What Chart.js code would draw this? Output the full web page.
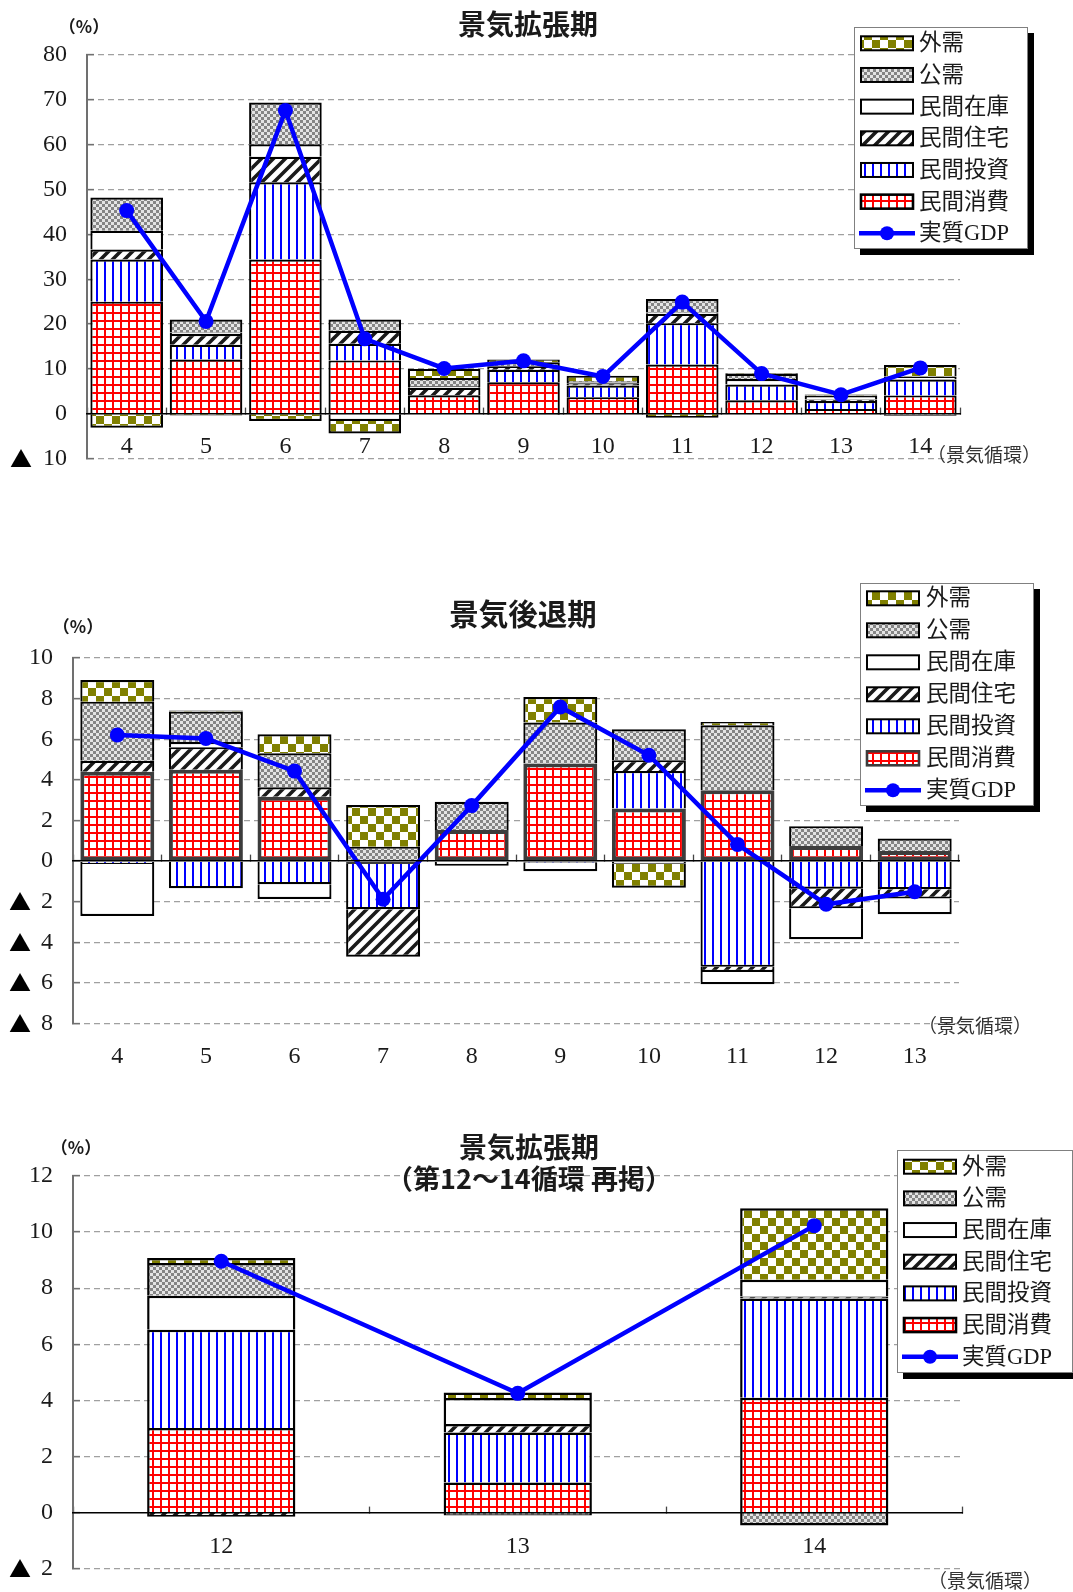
<!DOCTYPE html>
<html lang="ja">
<head>
<meta charset="utf-8">
<title>景気拡張期・後退期の需要項目別寄与</title>
<script src="https://cdn.jsdelivr.net/npm/chart.js@4.4.1/dist/chart.umd.min.js"></script>
<style>
  html, body { margin: 0; padding: 0; background: #fff; }
  body { width: 1073px; height: 1592px; position: relative; overflow: hidden; }
  canvas { position: absolute; left: 0; }
  .lbl { position: absolute; transform: translate(-50%, -50%); white-space: nowrap; color: #1a1a1a; line-height: 1; }
  .title { font-family: 'Noto Sans CJK JP', sans-serif; font-weight: 700; }
  .unit { font-family: 'Noto Sans CJK JP', sans-serif; font-weight: 700; font-size: 17px; }
  .axisname { font-family: 'Liberation Serif', 'Noto Sans CJK JP', serif; font-size: 19px; color: #333; }
</style>
</head>
<body>
<canvas id="c1" width="1073" height="500" style="top:0"></canvas>
<canvas id="c2" width="1073" height="570" style="top:520px"></canvas>
<canvas id="c3" width="1073" height="520" style="top:1090px"></canvas>

<div class="lbl title" style="left:528px;top:23px;font-size:28px">景気拡張期</div>
<div class="lbl unit" style="left:84px;top:25px">（%）</div>
<div class="lbl axisname" style="left:984px;top:455px">（景気循環）</div>

<div class="lbl title" style="left:523px;top:613px;font-size:29.5px">景気後退期</div>
<div class="lbl unit" style="left:78px;top:625px">（%）</div>
<div class="lbl axisname" style="left:975px;top:1026px">（景気循環）</div>

<div class="lbl title" style="left:529px;top:1146px;font-size:28px">景気拡張期</div>
<div class="lbl title" style="left:529px;top:1177px;font-size:27px">（第12～14循環 再掲）</div>
<div class="lbl unit" style="left:76px;top:1146px">（%）</div>
<div class="lbl axisname" style="left:985px;top:1581px">（景気循環）</div>

<script>
// 景気拡張期（第4～14循環）の寄与度（%）
const expansionCycles = ['4', '5', '6', '7', '8', '9', '10', '11', '12', '13', '14'];
const expConsumption  = [25.0, 12.1, 34.4, 11.9, 4.1, 7.0, 3.7, 11.0, 3.01, 1.07, 4.09];
const expInvestment   = [9.4, 3.3, 17.2, 3.7, 0.0, 2.8, 2.6, 9.2, 3.51, 1.78, 3.54];
const expHousing      = [2.2, 2.4, 5.7, 2.9, 1.7, 0.8, 0.5, 2.1, -0.15, 0.31, 0.07];
const expInventory    = [4.2, 0.3, 2.8, -1.6, 0.4, -0.3, 0.3, 0.3, 1.21, 0.92, 0.60];
const expPublic       = [7.4, 2.9, 9.3, 2.5, 1.8, 0.9, 0.2, 3.0, 1.17, -0.11, -0.46];
const expExternal     = [-3.1, -0.4, -1.6, -2.8, 2.0, 0.6, 1.2, -0.9, 0.18, 0.20, 2.55];
const expGDP          = [45.3, 20.6, 67.6, 16.7, 10.1, 11.8, 8.3, 24.9, 8.96, 4.25, 10.23];

// 景気後退期（第4～13循環）の寄与度（%）
const recessionCycles = ['4', '5', '6', '7', '8', '9', '10', '11', '12', '13'];
const recConsumption  = [4.40, 4.50, 3.17, -0.15, 1.53, 4.80, 2.59, 3.49, 0.74, 0.49];
const recInvestment   = [-0.14, -1.34, -1.14, -2.22, 0, -0.08, 1.84, -5.21, -1.36, -1.39];
const recHousing      = [0.54, 1.11, 0.46, -2.34, 0, 0, 0.54, -0.25, -0.97, -0.46];
const recInventory    = [-2.56, 0.25, -0.73, 0, -0.23, -0.42, -0.13, -0.61, -1.52, -0.77];
const recPublic       = [2.91, 1.50, 1.68, 0.71, 1.39, 2.02, 1.52, 3.20, 0.98, 0.62];
const recExternal     = [1.07, 0.05, 0.93, 2.05, 0, 1.26, -1.18, 0.16, 0, 0];
const recGDP          = [6.21, 6.04, 4.43, -1.88, 2.73, 7.59, 5.21, 0.82, -2.13, -1.51];

// 第12～14循環の再掲
const recent = arr => arr.slice(-3);

// 軸目盛
const expTicks = { min: -10, max: 80, step: 10 };
const recTicks = { min: -8, max: 10, step: 2 };
const recentTicks = { min: -2, max: 12, step: 2 };

const NUM_FONT = "'Liberation Serif', 'Noto Sans CJK JP', serif";
const INK = '#1a1a1a';

// ---- hatch fills ----
function tile(w, h, paint) {
  const c = document.createElement('canvas');
  c.width = w; c.height = h;
  const g = c.getContext('2d');
  g.fillStyle = '#fff';
  g.fillRect(0, 0, w, h);
  paint(g);
  return c;
}
const pctx = document.createElement('canvas').getContext('2d');
const fills = {
  consumption: pctx.createPattern(tile(8, 8, g => {
    g.fillStyle = '#ff0000';
    g.fillRect(0, 0, 8, 2);
    g.fillRect(0, 0, 2, 8);
  }), 'repeat'),
  investment: pctx.createPattern(tile(8, 8, g => {
    g.fillStyle = '#0000ff';
    g.fillRect(0, 0, 2, 8);
  }), 'repeat'),
  housing: pctx.createPattern(tile(12, 12, g => {
    g.strokeStyle = '#1a1a1a';
    g.lineWidth = 3.6;
    g.beginPath();
    for (let k = -12; k <= 12; k += 12) { g.moveTo(k - 2, 14); g.lineTo(k + 14, -2); }
    g.stroke();
  }), 'repeat'),
  inventory: '#ffffff',
  public: pctx.createPattern(tile(6, 6, g => {
    g.fillStyle = '#e4e4e4';
    g.fillRect(0, 0, 6, 6);
    g.fillStyle = '#858585';
    g.fillRect(0, 0, 3, 3);
    g.fillRect(3, 3, 3, 3);
  }), 'repeat'),
  external: pctx.createPattern(tile(16, 16, g => {
    g.fillStyle = '#808000';
    g.fillRect(0, 0, 8, 8);
    g.fillRect(8, 8, 8, 8);
  }), 'repeat')
};

function datasets(cons, inv, hous, invt, pub, ext, gdp, o) {
  const bar = (label, data, fill, extra) => Object.assign({
    type: 'bar', label, data,
    backgroundColor: fill,
    borderColor: '#000',
    borderWidth: o.bw,
    borderSkipped: 'start',
    stack: 'demand',
    order: 1,
    barPercentage: o.bp,
    categoryPercentage: 1
  }, extra || {});
  return [
    bar('民間消費', cons, fills.consumption, o.consExtra),
    bar('民間投資', inv, fills.investment),
    bar('民間住宅', hous, fills.housing),
    bar('民間在庫', invt, fills.inventory),
    bar('公需', pub, fills.public),
    bar('外需', ext, fills.external),
    {
      type: 'line', label: '実質GDP', data: gdp,
      borderColor: '#0000ff', backgroundColor: '#0000ff',
      borderWidth: 4.5, tension: 0,
      pointRadius: 7.5, pointBackgroundColor: '#0000ff', pointBorderColor: '#0000ff', pointBorderWidth: 0,
      stack: 'gdp', order: 0
    }
  ];
}

// y軸は数値の軸と、その外側に負の値を示す「▲」だけを並べる軸の二本立て
function scales(t, geo) {
  return {
    x: {
      type: 'category',
      stacked: true,
      offset: true,
      position: { y: 0 },
      afterFit: s => { s.paddingLeft = 0; s.paddingRight = 0; },
      grid: { display: true, offset: true, drawOnChartArea: false, drawTicks: true, tickLength: -7, tickColor: '#444', tickWidth: 1.3, tickBorderDash: [] },
      border: { display: true, color: '#000', width: 1.6, z: 1 },
      ticks: { padding: geo.xPad, color: INK, font: { family: NUM_FONT, size: 24 }, maxRotation: 0, autoSkip: false }
    },
    y: {
      type: 'linear',
      stacked: true,
      weight: 0,
      min: t.min, max: t.max,
      afterFit: s => { s.width = geo.yWidth - geo.markWidth; },
      grid: {
        color: c => (c.tick && c.tick.value === 0) ? 'rgba(0,0,0,0)' : '#a0a0a0',
        lineWidth: 1.2,
        drawTicks: true, tickLength: -7, tickColor: '#707070', tickWidth: 1.5, tickBorderDash: []
      },
      border: { display: true, color: '#707070', width: 2, dash: [6, 4] },
      ticks: {
        stepSize: t.step, padding: 27, color: INK,
        font: { family: NUM_FONT, size: 24 },
        callback: v => String(Math.abs(v))
      }
    },
    yMark: {
      type: 'linear',
      position: 'left',
      weight: 1,
      min: t.min, max: t.max,
      afterFit: s => { s.width = geo.markWidth; },
      grid: { display: false, drawTicks: false },
      border: { display: false },
      ticks: {
        stepSize: t.step, padding: geo.markPad, color: '#000',
        font: { family: "'Noto Sans CJK JP', sans-serif", size: 22 },
        callback: v => v < 0 ? '▲' : ''
      }
    }
  };
}

// 凡例（影付きの枠）
function boxLegend(L) {
  return {
    id: 'boxLegend',
    afterDraw(chart) {
      const ctx = chart.ctx;
      const order = [5, 4, 3, 2, 1, 0, 6];
      ctx.save();
      ctx.fillStyle = '#000';
      ctx.fillRect(L.x + 6, L.y + 6, L.w, L.h);
      ctx.fillStyle = '#fff';
      ctx.fillRect(L.x, L.y, L.w, L.h);
      ctx.strokeStyle = '#808080';
      ctx.lineWidth = 1;
      ctx.strokeRect(L.x + 0.5, L.y + 0.5, L.w - 1, L.h - 1);
      ctx.font = "22.5px 'Liberation Serif', 'Noto Sans CJK JP', serif";
      ctx.textBaseline = 'middle';
      ctx.textAlign = 'left';
      order.forEach((di, i) => {
        const ds = chart.data.datasets[di];
        const cy = L.row0 + i * L.step;
        if (ds.type === 'line') {
          ctx.strokeStyle = ds.borderColor;
          ctx.lineWidth = 4.5;
          ctx.beginPath();
          ctx.moveTo(L.sx - 2, cy);
          ctx.lineTo(L.sx + 54, cy);
          ctx.stroke();
          ctx.fillStyle = ds.pointBackgroundColor;
          ctx.beginPath();
          ctx.arc(L.sx + 26, cy, 7, 0, Math.PI * 2);
          ctx.fill();
        } else {
          ctx.fillStyle = ds.backgroundColor;
          ctx.fillRect(L.sx, cy - 7, 52, 14);
          ctx.strokeStyle = ds.borderColor;
          ctx.lineWidth = di === 0 ? 2.6 : 2;
          ctx.strokeRect(L.sx, cy - 7, 52, 14);
        }
        ctx.fillStyle = INK;
        ctx.fillText(ds.label, L.tx, cy + 1);
      });
      ctx.restore();
    }
  };
}

function makeChart(id, labels, sets, t, geo, legend) {
  return new Chart(document.getElementById(id), {
    data: { labels, datasets: sets },
    options: {
      responsive: false,
      animation: false,
      events: [],
      layout: { padding: geo.padding },
      plugins: { legend: { display: false }, tooltip: { enabled: false }, title: { display: false } },
      scales: scales(t, geo)
    },
    plugins: [boxLegend(legend)]
  });
}

// 景気拡張期
makeChart('c1', expansionCycles,
  datasets(expConsumption, expInvestment, expHousing, expInventory, expPublic, expExternal, expGDP,
    { bw: 2.2, bp: 0.915 }),
  expTicks,
  { padding: { left: 0, top: 55, right: 113, bottom: 41 }, yWidth: 87, markWidth: 36, markPad: 4, xPad: 25.6 },
  { x: 854, y: 27, w: 174, h: 222, row0: 43.3, step: 31.67, sx: 861, tx: 919 });

// 景気後退期
makeChart('c2', recessionCycles,
  datasets(recConsumption, recInvestment, recHousing, recInventory, recPublic, recExternal, recGDP,
    { bw: 2.2, bp: 0.835, consExtra: { borderColor: '#3c3c3c', borderWidth: 4, borderSkipped: false } }),
  recTicks,
  { padding: { left: 0, top: 138, right: 114, bottom: 66.5 }, yWidth: 73, markWidth: 31, markPad: 0, xPad: 188.5 },
  { x: 860, y: 63, w: 174, h: 223, row0: 78.3, step: 32, sx: 867, tx: 926 });

// 景気拡張期（第12～14循環 再掲）
makeChart('c3', recent(expansionCycles),
  datasets(recent(expConsumption), recent(expInvestment), recent(expHousing), recent(expInventory),
    recent(expPublic), recent(expExternal), recent(expGDP),
    { bw: 2.5, bp: 0.5 }),
  recentTicks,
  { padding: { left: 0, top: 86, right: 110.5, bottom: 29 }, yWidth: 73, markWidth: 31, markPad: 0, xPad: 27 },
  { x: 897, y: 60, w: 176, h: 223, row0: 76.7, step: 31.67, sx: 904, tx: 962 });
</script>
</body>
</html>
